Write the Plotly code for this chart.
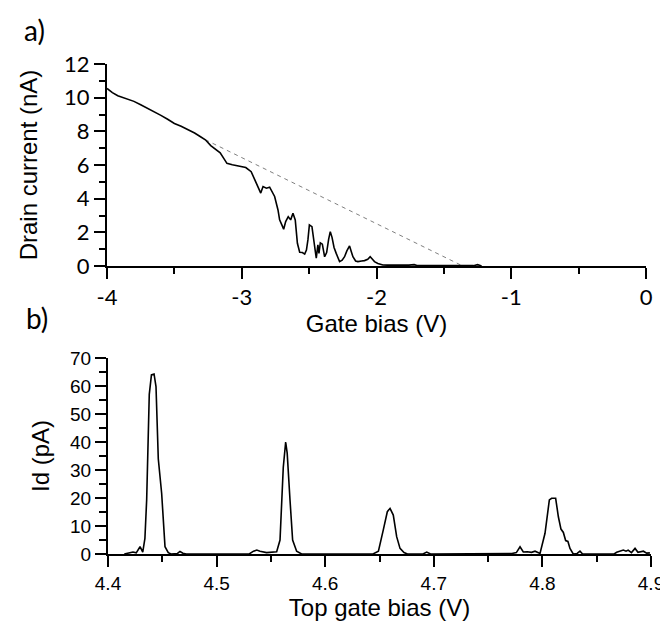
import plotly.graph_objects as go

# ---------- Panel a data ----------
gate_bias_v = [-4.00, -3.96, -3.92, -3.88, -3.84, -3.80, -3.75, -3.70, -3.65, -3.60,
               -3.55, -3.50, -3.45, -3.40, -3.35, -3.30, -3.27, -3.23, -3.19, -3.16,
               -3.13, -3.11, -3.07, -3.02, -2.97, -2.93, -2.90, -2.875, -2.859, -2.842,
               -2.817, -2.793, -2.775, -2.756, -2.731, -2.719, -2.70, -2.689, -2.674, -2.655,
               -2.637, -2.62, -2.603, -2.587, -2.57, -2.55, -2.533, -2.52, -2.509, -2.498,
               -2.479, -2.459, -2.447, -2.435, -2.427, -2.417, -2.402, -2.385, -2.37, -2.355,
               -2.343, -2.33, -2.315, -2.299, -2.274, -2.255, -2.237, -2.22, -2.20, -2.185,
               -2.175, -2.155, -2.138, -2.11, -2.089, -2.065, -2.047, -2.03, -2.015, -1.99,
               -1.953, -1.92, -1.88, -1.84, -1.80, -1.76, -1.72, -1.70, -1.65, -1.55,
               -1.45, -1.35, -1.28, -1.25, -1.22]
drain_current_na = [10.55, 10.30, 10.12, 10.00, 9.92, 9.78, 9.58, 9.38, 9.15, 8.95,
                    8.72, 8.47, 8.30, 8.12, 7.90, 7.65, 7.50, 7.15, 6.90, 6.72,
                    6.35, 6.10, 6.02, 5.95, 5.85, 5.60, 5.10, 4.60, 4.33, 4.72,
                    4.62, 4.68, 4.45, 4.13, 3.33, 2.74, 2.40, 2.18, 2.64, 2.93,
                    2.74, 3.14, 2.74, 1.35, 0.82, 0.80, 0.71, 0.95, 1.55, 2.44,
                    2.34, 1.15, 0.46, 1.25, 0.75, 1.38, 1.30, 0.55, 0.80, 1.60,
                    2.04, 1.70, 1.10, 0.75, 0.26, 0.35, 0.55, 0.90, 1.19, 0.80,
                    0.55, 0.30, 0.26, 0.30, 0.32, 0.40, 0.55, 0.40, 0.26, 0.15,
                    0.06, 0.05, 0.04, 0.06, 0.03, 0.05, 0.08, 0.03, 0.02, 0.01,
                    0.00, 0.01, 0.02, 0.08, 0.00]
extrap_v = [-3.27, -1.36]
extrap_na = [7.50, 0.00]

# ---------- Panel b data ----------
top_gate_v = [4.415, 4.420, 4.423, 4.426, 4.4295, 4.432, 4.434, 4.4356, 4.437, 4.438,
              4.440, 4.4424, 4.4442, 4.4455, 4.4463, 4.4494, 4.451, 4.4525, 4.4555, 4.458,
              4.464, 4.4663, 4.469, 4.472, 4.530, 4.534, 4.537, 4.540, 4.546, 4.552,
              4.5553, 4.5584, 4.5614, 4.5636, 4.565, 4.5676, 4.570, 4.5737, 4.5783, 4.644,
              4.649, 4.6535, 4.6572, 4.6597, 4.6627, 4.6658, 4.6689, 4.6726, 4.6757, 4.690,
              4.6935, 4.697, 4.765, 4.772, 4.776, 4.7794, 4.7824, 4.786, 4.790, 4.7932,
              4.7978, 4.8024, 4.8064, 4.8085, 4.8122, 4.8147, 4.8171, 4.8193, 4.8214, 4.8235,
              4.8254, 4.8284, 4.832, 4.8346, 4.837, 4.866, 4.8684, 4.872, 4.8745, 4.877,
              4.879, 4.882, 4.8853, 4.888, 4.893, 4.896, 4.899]
id_pa = [0.0, 0.3, 0.7, 0.4, 2.6, 0.7, 5.6, 19.3, 45.0, 57.0,
         64.0, 64.3, 59.8, 45.0, 34.0, 21.7, 10.0, 2.6, 0.5, 0.0,
         0.2, 0.9, 0.3, 0.0, 0.0, 1.0, 1.4, 1.0, 0.5, 0.6,
         0.8, 5.0, 31.0, 40.0, 36.0, 19.3, 5.0, 1.0, 0.0, 0.0,
         1.0, 8.6, 15.1, 16.3, 13.9, 6.2, 2.0, 0.5, 0.0, 0.0,
         0.7, 0.0, 0.3, 0.2, 0.5, 2.6, 0.7, 0.8, 0.6, 1.0,
         0.2, 7.4, 19.3, 19.9, 19.9, 13.3, 8.9, 7.7, 4.8, 4.5,
         2.0, 0.0, 0.2, 1.0, 0.0, 0.0, 0.6, 1.2, 1.4, 1.0,
         1.4, 0.5, 2.0, 0.6, 1.0, 0.3, 0.4]

a_ticks = [-4, -3, -2, -1, 0]
a_yticks = [0, 2, 4, 6, 8, 10, 12]
b_ticks = [4.4, 4.5, 4.6, 4.7, 4.8, 4.9]
b_yticks = [0, 10, 20, 30, 40, 50, 60, 70]

# page body has an 8px margin; size the figure so it fits the 668x628 window
OFF = 8
W, H = 668 - OFF, 628 - OFF


def fx(px):
    return (px - OFF) / W


def fy(py):
    return 1 - (py - OFF) / H


TITLE_FONT = dict(family="Liberation Sans", size=24, color="black")
A_TICK_FONT = dict(family="Lato", size=22, color="black")
B_TICK_FONT = dict(family="Liberation Sans", size=19, color="black")

fig = go.Figure()
fig.add_trace(go.Scatter(x=extrap_v, y=extrap_na, mode="lines",
                         line=dict(color="#808080", width=1, dash="4px,4px"),
                         xaxis="x", yaxis="y", showlegend=False))
fig.add_trace(go.Scatter(x=gate_bias_v, y=drain_current_na, mode="lines",
                         line=dict(color="black", width=1.6),
                         xaxis="x", yaxis="y", showlegend=False))
fig.add_trace(go.Scatter(x=top_gate_v, y=id_pa, mode="lines",
                         line=dict(color="black", width=1.6),
                         xaxis="x2", yaxis="y2", showlegend=False))

axis_common = dict(showgrid=False, zeroline=False, showline=True, linecolor="black",
                   linewidth=2, ticks="outside", tickcolor="black", tickwidth=2,
                   automargin=False)

fig.update_layout(
    width=W, height=H,
    margin=dict(l=0, r=0, t=0, b=0),
    paper_bgcolor="white", plot_bgcolor="white",
    xaxis=dict(**axis_common, domain=[fx(107), fx(646)], range=[-4, 0],
               tickvals=a_ticks, ticktext=[str(t) for t in a_ticks], ticklen=11,
               minor=dict(dtick=0.5, ticks="outside", ticklen=6, tickcolor="black", tickwidth=2),
               tickfont=A_TICK_FONT, anchor="y",
               title=dict(text="Gate bias (V)", font=TITLE_FONT, standoff=2)),
    yaxis=dict(**axis_common, domain=[fy(266), fy(64)], range=[0, 12],
               tickvals=a_yticks, ticklen=11,
               minor=dict(dtick=1, ticks="outside", ticklen=6, tickcolor="black", tickwidth=2),
               tickfont=A_TICK_FONT, anchor="x",
               title=dict(text="Drain current (nA)", font=TITLE_FONT, standoff=20)),
    xaxis2=dict(**axis_common, domain=[fx(108), fx(651)], range=[4.4, 4.9],
                tickvals=b_ticks, ticktext=["4.4", "4.5", "4.6", "4.7", "4.8", "4.9"], ticklen=11,
                minor=dict(dtick=0.05, ticks="outside", ticklen=6, tickcolor="black", tickwidth=2),
                tickfont=B_TICK_FONT, anchor="y2",
                title=dict(text="Top gate bias (V)", font=TITLE_FONT, standoff=6)),
    yaxis2=dict(**axis_common, domain=[fy(554), fy(358)], range=[0, 70],
                tickvals=b_yticks, ticklen=11,
                minor=dict(dtick=5, ticks="outside", ticklen=7, tickcolor="black", tickwidth=2),
                tickfont=B_TICK_FONT, anchor="x2",
                title=dict(text="Id (pA)", font=TITLE_FONT, standoff=14)),
    annotations=[
        dict(text="a)", x=fx(22), y=fy(30), xref="paper", yref="paper",
             xanchor="left", yanchor="middle", showarrow=False,
             font=dict(family="Lato", size=28, color="black")),
        dict(text="b)", x=fx(24), y=fy(318), xref="paper", yref="paper",
             xanchor="left", yanchor="middle", showarrow=False,
             font=dict(family="Lato", size=28, color="black")),
    ],
)

fig.write_html("out.html")
